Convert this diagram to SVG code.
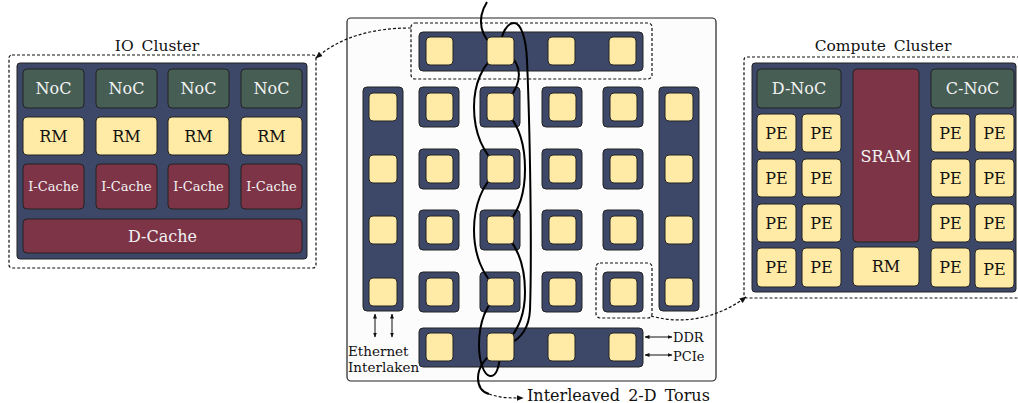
<svg xmlns="http://www.w3.org/2000/svg" width="1018" height="403" viewBox="0 0 1018 403">
<style>
text{font-family:"DejaVu Serif","Liberation Serif",serif;}
.nv{fill:#3d4868;stroke:#222;stroke-width:1;}
.gr{fill:#475e54;stroke:#222;stroke-width:1;}
.mr{fill:#7e3447;stroke:#222;stroke-width:1;}
.yl{fill:#ffeaa6;stroke:#222;stroke-width:1;}
.dash{fill:none;stroke:#111;stroke-width:1.2;stroke-dasharray:3 2;}
.lt{fill:#f2f2f2;font-size:16px;text-anchor:middle;}
.dk{fill:#111;font-size:16px;text-anchor:middle;}
.ttl{fill:#111;font-size:15.5px;text-anchor:middle;word-spacing:3px;}
.sm{fill:#111;font-size:13px;}
.wire{fill:none;stroke:#000;stroke-width:2;}
.ar{fill:none;stroke:#111;stroke-width:1;}
</style>
<defs>
<marker id="ah" viewBox="0 0 10 10" refX="9" refY="5" markerWidth="7" markerHeight="7" orient="auto-start-reverse" markerUnits="userSpaceOnUse"><path d="M0,1 L10,5 L0,9 z" fill="#111"/></marker>
<marker id="ahs" viewBox="0 0 10 10" refX="9" refY="5" markerWidth="5" markerHeight="5" orient="auto-start-reverse" markerUnits="userSpaceOnUse"><path d="M0,1 L10,5 L0,9 z" fill="#111"/></marker>
</defs>

<!-- IO Cluster -->
<g id="io-cluster">
<text class="ttl" x="157" y="51">IO Cluster</text>
<rect class="dash" x="9" y="55" width="307" height="213" rx="3"/>
<rect class="nv" x="17" y="63" width="290" height="196" rx="3"/>
<g id="io-noc">
<rect class="gr" x="23" y="69" width="61" height="39" rx="4"/><text class="lt" x="53.5" y="94">NoC</text>
<rect class="gr" x="96" y="69" width="61" height="39" rx="4"/><text class="lt" x="126.5" y="94">NoC</text>
<rect class="gr" x="168" y="69" width="61" height="39" rx="4"/><text class="lt" x="198.5" y="94">NoC</text>
<rect class="gr" x="241" y="69" width="61" height="39" rx="4"/><text class="lt" x="271.5" y="94">NoC</text>
</g>
<g id="io-rm">
<rect class="yl" x="23" y="117" width="61" height="38" rx="4"/><text class="dk" x="53.5" y="142">RM</text>
<rect class="yl" x="96" y="117" width="61" height="38" rx="4"/><text class="dk" x="126.5" y="142">RM</text>
<rect class="yl" x="168" y="117" width="61" height="38" rx="4"/><text class="dk" x="198.5" y="142">RM</text>
<rect class="yl" x="241" y="117" width="61" height="38" rx="4"/><text class="dk" x="271.5" y="142">RM</text>
</g>
<g id="io-icache">
<rect class="mr" x="23" y="164" width="61" height="45" rx="4"/><text class="lt" x="53.5" y="191" style="font-size:13px">I-Cache</text>
<rect class="mr" x="96" y="164" width="61" height="45" rx="4"/><text class="lt" x="126.5" y="191" style="font-size:13px">I-Cache</text>
<rect class="mr" x="168" y="164" width="61" height="45" rx="4"/><text class="lt" x="198.5" y="191" style="font-size:13px">I-Cache</text>
<rect class="mr" x="241" y="164" width="61" height="45" rx="4"/><text class="lt" x="271.5" y="191" style="font-size:13px">I-Cache</text>
</g>
<g id="io-dcache">
<rect class="mr" x="23" y="219" width="279" height="34" rx="4"/><text class="lt" x="162.5" y="242">D-Cache</text>
</g>
</g>

<!-- Compute Cluster -->
<g id="compute-cluster">
<text class="ttl" x="883" y="51">Compute Cluster</text>
<path class="dash" d="M1020 57 L747 57 Q744 57 744 60 L744 295 Q744 298 747 298 L1020 298"/>
<rect class="nv" x="752" y="63" width="264" height="229" rx="3"/>
<g id="cc-dnoc"><rect class="gr" x="757" y="69" width="84" height="39" rx="4"/><text class="lt" x="799" y="94">D-NoC</text></g>
<g id="cc-sram"><rect class="mr" x="853" y="69" width="66" height="173" rx="4"/><text class="lt" x="886" y="162">SRAM</text></g>
<g id="cc-rm"><rect class="yl" x="853" y="247" width="66" height="39" rx="4"/><text class="dk" x="886" y="272">RM</text></g>
<g id="cc-cnoc"><rect class="gr" x="931" y="69" width="83" height="39" rx="4"/><text class="lt" x="972.5" y="94">C-NoC</text></g>
<g id="cc-pe">
<rect class="yl" x="757" y="114" width="39" height="38" rx="4"/><text class="dk" x="776.5" y="139">PE</text>
<rect class="yl" x="802" y="114" width="39" height="38" rx="4"/><text class="dk" x="821.5" y="139">PE</text>
<rect class="yl" x="757" y="159" width="39" height="38" rx="4"/><text class="dk" x="776.5" y="184">PE</text>
<rect class="yl" x="802" y="159" width="39" height="38" rx="4"/><text class="dk" x="821.5" y="184">PE</text>
<rect class="yl" x="757" y="204" width="39" height="38" rx="4"/><text class="dk" x="776.5" y="229">PE</text>
<rect class="yl" x="802" y="204" width="39" height="38" rx="4"/><text class="dk" x="821.5" y="229">PE</text>
<rect class="yl" x="757" y="248" width="39" height="39" rx="4"/><text class="dk" x="776.5" y="273">PE</text>
<rect class="yl" x="802" y="248" width="39" height="39" rx="4"/><text class="dk" x="821.5" y="273">PE</text>
<rect class="yl" x="931" y="114" width="39" height="38" rx="4"/><text class="dk" x="950.5" y="139">PE</text>
<rect class="yl" x="975" y="114" width="39" height="38" rx="4"/><text class="dk" x="994.5" y="139">PE</text>
<rect class="yl" x="931" y="159" width="39" height="38" rx="4"/><text class="dk" x="950.5" y="184">PE</text>
<rect class="yl" x="975" y="159" width="39" height="38" rx="4"/><text class="dk" x="994.5" y="184">PE</text>
<rect class="yl" x="931" y="204" width="39" height="38" rx="4"/><text class="dk" x="950.5" y="229">PE</text>
<rect class="yl" x="975" y="204" width="39" height="38" rx="4"/><text class="dk" x="994.5" y="229">PE</text>
<rect class="yl" x="931" y="248" width="39" height="39" rx="4"/><text class="dk" x="950.5" y="273">PE</text>
<rect class="yl" x="975" y="249" width="39" height="39" rx="4"/><text class="dk" x="994.5" y="275">PE</text>
</g>
</g>

<!-- Chip -->
<g id="chip">
<rect x="347" y="18" width="369" height="363" rx="4" fill="#fcfcfc" stroke="#222" stroke-width="1.2"/>
<rect class="dash" x="411" y="23" width="241" height="56" rx="4"/>
<rect class="dash" x="596" y="263" width="56" height="55" rx="4"/>
<g id="bars">
<rect class="nv" x="419" y="32" width="224" height="39" rx="4"/>
<rect class="nv" x="419" y="328" width="224" height="39" rx="4"/>
<rect class="nv" x="363" y="87" width="40" height="224" rx="4"/>
<rect class="nv" x="659" y="87" width="40" height="224" rx="4"/>
</g>
<g id="tiles">
<rect class="nv" x="419" y="87" width="40" height="40" rx="4"/><rect class="nv" x="480" y="87" width="40" height="40" rx="4"/><rect class="nv" x="542" y="87" width="40" height="40" rx="4"/><rect class="nv" x="603" y="87" width="40" height="40" rx="4"/>
<rect class="nv" x="419" y="149" width="40" height="40" rx="4"/><rect class="nv" x="480" y="149" width="40" height="40" rx="4"/><rect class="nv" x="542" y="149" width="40" height="40" rx="4"/><rect class="nv" x="603" y="149" width="40" height="40" rx="4"/>
<rect class="nv" x="419" y="210" width="40" height="40" rx="4"/><rect class="nv" x="480" y="210" width="40" height="40" rx="4"/><rect class="nv" x="542" y="210" width="40" height="40" rx="4"/><rect class="nv" x="603" y="210" width="40" height="40" rx="4"/>
<rect class="nv" x="419" y="272" width="40" height="40" rx="4"/><rect class="nv" x="480" y="272" width="40" height="40" rx="4"/><rect class="nv" x="542" y="272" width="40" height="40" rx="4"/><rect class="nv" x="603" y="272" width="40" height="40" rx="4"/>
</g>
</g>

<!-- Connectors -->
<g id="connectors">
<path class="wire" d="M487 2 C477 18 478 38 500.5 51"/>
<path class="wire" d="M500.5 51 C481 64 474 86 474 107 C474 129 481 152 500.5 169 C481 183 474 208 474 230 C474 252 481 276 500.5 292"/>
<path class="wire" d="M500.5 107 C520 122 525 146 525 169 C525 192 520 215 500.5 230 C520 246 525 270 525 292 C525 315 518 334 500.5 347"/>
<path class="wire" d="M500.5 51 C524 60 526 85 500.5 107"/>
<path class="wire" d="M500.5 51 C500 32 508 23 514 23 C521 23 526 38 527 60 C530 130 532 250 530 310 C529 330 520 342 500.5 347"/>
<path class="wire" d="M500.5 292 C485 305 479 322 479 345 C479 362 484 375 490 376 C496 377 500 368 500.5 347"/>
<path class="wire" d="M500.5 347 C485 357 478 368 478 378 C478 386 482 392 489 394"/>
<path class="dash" d="M489 394 C500 398 510 398 523 398" marker-end="url(#ah)"/>
<path class="dash" d="M411 28 C372 28 340 37 316 58" marker-end="url(#ah)"/>
<path class="dash" d="M651 316 C690 327 725 313 746 297" marker-end="url(#ah)"/>
<line class="ar" x1="375" y1="314" x2="375" y2="337" marker-start="url(#ahs)" marker-end="url(#ahs)"/>
<line class="ar" x1="392" y1="314" x2="392" y2="337" marker-start="url(#ahs)" marker-end="url(#ahs)"/>
<line class="ar" x1="645" y1="337" x2="672" y2="337" marker-start="url(#ahs)" marker-end="url(#ahs)"/>
<line class="ar" x1="645" y1="355" x2="672" y2="355" marker-start="url(#ahs)" marker-end="url(#ahs)"/>
</g>

<!-- Router squares -->
<g id="routers">
<rect class="yl" x="426" y="37" width="27" height="28" rx="4"/><rect class="yl" x="487" y="37" width="27" height="28" rx="4"/><rect class="yl" x="548" y="37" width="27" height="28" rx="4"/><rect class="yl" x="609" y="37" width="27" height="28" rx="4"/>
<rect class="yl" x="426" y="333" width="27" height="28" rx="4"/><rect class="yl" x="487" y="333" width="27" height="28" rx="4"/><rect class="yl" x="548" y="333" width="27" height="28" rx="4"/><rect class="yl" x="609" y="333" width="27" height="28" rx="4"/>
<rect class="yl" x="369" y="93" width="28" height="28" rx="4"/><rect class="yl" x="369" y="155" width="28" height="28" rx="4"/><rect class="yl" x="369" y="216" width="28" height="28" rx="4"/><rect class="yl" x="369" y="278" width="28" height="28" rx="4"/>
<rect class="yl" x="665" y="93" width="28" height="28" rx="4"/><rect class="yl" x="665" y="155" width="28" height="28" rx="4"/><rect class="yl" x="665" y="216" width="28" height="28" rx="4"/><rect class="yl" x="665" y="278" width="28" height="28" rx="4"/>
<rect class="yl" x="426" y="93" width="27" height="28" rx="4"/><rect class="yl" x="487" y="93" width="27" height="28" rx="4"/><rect class="yl" x="549" y="93" width="27" height="28" rx="4"/><rect class="yl" x="610" y="93" width="27" height="28" rx="4"/>
<rect class="yl" x="426" y="155" width="27" height="28" rx="4"/><rect class="yl" x="487" y="155" width="27" height="28" rx="4"/><rect class="yl" x="549" y="155" width="27" height="28" rx="4"/><rect class="yl" x="610" y="155" width="27" height="28" rx="4"/>
<rect class="yl" x="426" y="216" width="27" height="28" rx="4"/><rect class="yl" x="487" y="216" width="27" height="28" rx="4"/><rect class="yl" x="549" y="216" width="27" height="28" rx="4"/><rect class="yl" x="610" y="216" width="27" height="28" rx="4"/>
<rect class="yl" x="426" y="278" width="27" height="28" rx="4"/><rect class="yl" x="487" y="278" width="27" height="28" rx="4"/><rect class="yl" x="549" y="278" width="27" height="28" rx="4"/><rect class="yl" x="610" y="278" width="27" height="28" rx="4"/>
</g>

<g id="labels">
<text class="sm" x="348" y="356" style="font-size:13.5px">Ethernet</text>
<text class="sm" x="348" y="372" style="font-size:13.5px">Interlaken</text>
<text class="sm" x="673" y="342">DDR</text>
<text class="sm" x="673" y="361">PCIe</text>
<text class="sm" x="527" y="401" style="font-size:16px;word-spacing:3px">Interleaved 2-D Torus</text>
</g>
</svg>
